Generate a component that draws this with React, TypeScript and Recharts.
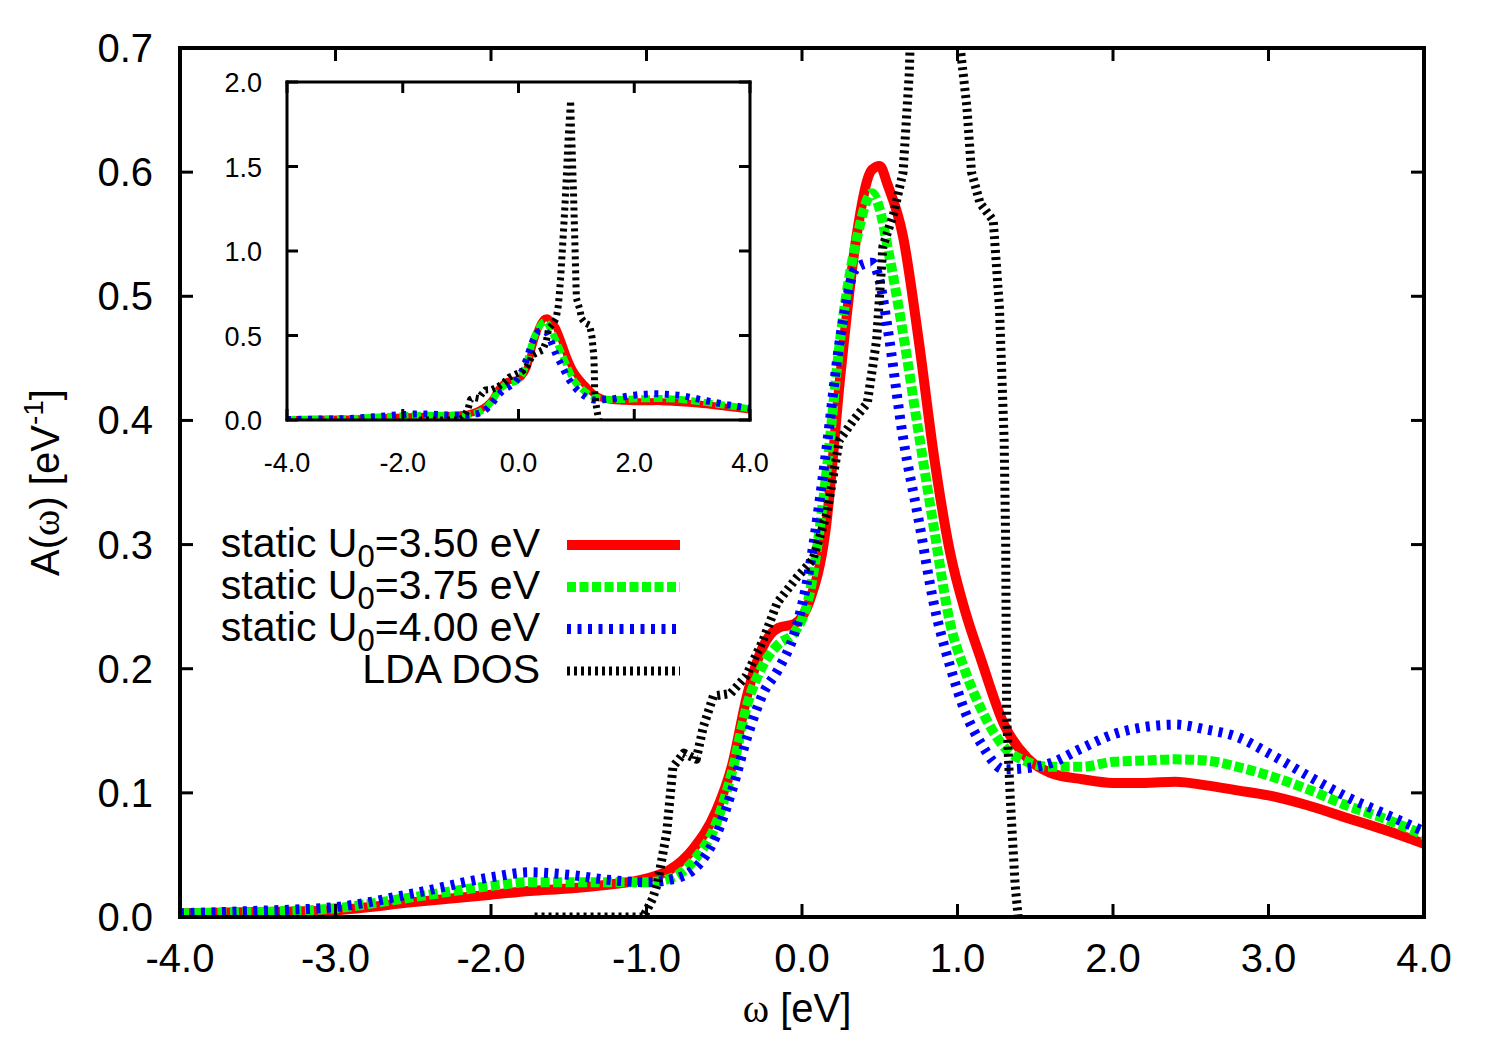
import { Label, Legend, Line, LineChart, XAxis, YAxis } from "recharts";

const FONT = '"Liberation Sans", Arial, Helvetica, sans-serif';
const SYMBOL = '"Liberation Serif", "DejaVu Serif", serif';

// energy grid (eV) shared by the three static-U spectra
const omega = [
  -4, -3.5, -3, -2.5, -2, -1.75, -1.5, -1.25, -1, -0.85,
  -0.7, -0.55, -0.45, -0.35, -0.25, -0.15, -0.05, 0.05, 0.15, 0.25,
  0.35, 0.45, 0.5, 0.55, 0.65, 0.75, 0.85, 0.95, 1.05, 1.15,
  1.3, 1.45, 1.6, 1.8, 2.0, 2.2, 2.4, 2.6, 2.8, 3.0,
  3.25, 3.5, 3.75, 4.0,
];
const aU350 = [
  0.003, 0.004, 0.0055, 0.012, 0.018, 0.021, 0.023, 0.026, 0.031, 0.038,
  0.055, 0.086, 0.122, 0.18, 0.218, 0.233, 0.236, 0.255, 0.31, 0.44,
  0.548, 0.602, 0.605, 0.59, 0.548, 0.465, 0.37, 0.295, 0.246, 0.208,
  0.155, 0.128, 0.116, 0.111, 0.108, 0.108, 0.109, 0.106, 0.102, 0.098,
  0.09, 0.08, 0.07, 0.059,
];
const aU375 = [
  0.003, 0.004, 0.007, 0.016, 0.025, 0.028, 0.028, 0.028, 0.028, 0.031,
  0.045, 0.076, 0.117, 0.172, 0.203, 0.22, 0.229, 0.261, 0.35, 0.47,
  0.545, 0.583, 0.57, 0.54, 0.47, 0.39, 0.312, 0.238, 0.198, 0.168,
  0.137, 0.125, 0.121, 0.121, 0.125, 0.126, 0.127, 0.126, 0.121, 0.114,
  0.103, 0.09, 0.079, 0.066,
];
const aU400 = [
  0.003, 0.005, 0.008, 0.019, 0.032, 0.036, 0.034, 0.03, 0.028, 0.03,
  0.038, 0.066, 0.102, 0.146, 0.18, 0.2, 0.228, 0.282, 0.37, 0.47,
  0.523, 0.527, 0.512, 0.475, 0.386, 0.32, 0.251, 0.203, 0.165, 0.14,
  0.119, 0.12, 0.124, 0.136, 0.147, 0.153, 0.155, 0.151, 0.145, 0.132,
  0.114, 0.097, 0.083, 0.069,
];

// LDA density of states
const ldaOmega = [
  -1.72, -1.02, -0.96, -0.93, -0.87, -0.83, -0.76, -0.68, -0.635, -0.57,
  -0.46, -0.36, -0.25, -0.16, -0.03, 0.07, 0.16, 0.24, 0.33, 0.42,
  0.48, 0.52, 0.59, 0.65, 0.69, 0.73, 0.8, 0.86, 0.9, 0.95,
  1.0, 1.06, 1.09, 1.145, 1.23, 1.27, 1.3, 1.31, 1.316, 1.34,
  1.37, 1.39,
];
const ldaDos = [
  0, 0, 0.015, 0.027, 0.068, 0.121, 0.132, 0.127, 0.153, 0.178,
  0.18, 0.194, 0.223, 0.253, 0.274, 0.288, 0.325, 0.384, 0.4, 0.414,
  0.465, 0.54, 0.567, 0.6, 0.68, 0.85, 1.25, 1.68, 1.89, 1.35,
  0.72, 0.653, 0.6, 0.575, 0.561, 0.49, 0.384, 0.3, 0.161, 0.094,
  0.027, 0,
];

const mainXTicks = [-4, -3, -2, -1, 0, 1, 2, 3, 4];
const mainYTicks = [0, 0.1, 0.2, 0.3, 0.4, 0.5, 0.6, 0.7];
const insetXTicks = [-4, -2, 0, 2, 4];
const insetYTicks = [0, 0.5, 1, 1.5, 2];

const uValues = ["3.50", "3.75", "4.00"];

const spectra = omega.map((w, i) => ({ w, u350: aU350[i], u375: aU375[i], u400: aU400[i] }));
const lda = ldaOmega.map((w, i) => ({ w, dos: ldaDos[i] }));

const series = [
  { key: "u350", data: spectra, color: "#ff0000", dash: undefined, u: uValues[0], curve: "monotone" },
  { key: "u375", data: spectra, color: "#00ff00", dash: "9 3.5", u: uValues[1], curve: "monotone" },
  { key: "u400", data: spectra, color: "#0000ff", dash: "4 6.5", u: uValues[2], curve: "monotone" },
  { key: "dos", data: lda, color: "#000000", dash: "3 4", u: null, curve: "linear" },
] as const;

type Side = "bottom" | "top" | "left" | "right";
type TickFont = { size: number; gap: number; base: number };

// gnuplot-style ticks: mark drawn inward, label outside
const inTick = (side: Side, len: number, sw: number, font?: TickFont) => (p: any) => {
  const { x, y, payload } = p;
  const dx = side === "left" ? len : side === "right" ? -len : 0;
  const dy = side === "bottom" ? -len : side === "top" ? len : 0;
  let label = null;
  if (font) {
    const txt = Number(payload.value).toFixed(1);
    label =
      side === "left" ? (
        <text x={x - font.gap} y={y + font.base} textAnchor="end" fontSize={font.size} fontFamily={FONT} fill="#000">
          {txt}
        </text>
      ) : (
        <text x={x} y={y + font.base} textAnchor="middle" fontSize={font.size} fontFamily={FONT} fill="#000">
          {txt}
        </text>
      );
  }
  return (
    <g>
      <line x1={x} y1={y} x2={x + dx} y2={y + dy} stroke="#000" strokeWidth={sw} />
      {label}
    </g>
  );
};

function LegendBox() {
  const rows = [33, 75, 117, 159];
  return (
    <svg width={500} height={180} style={{ overflow: "visible" }}>
      {series.map((s, i) => (
        <g key={s.key}>
          <text x={340} y={rows[i] + 12} textAnchor="end" fontSize={41} fontFamily={FONT} fill="#000">
            {s.u ? (
              <>
                static U
                <tspan fontSize={31} dy={10}>0</tspan>
                <tspan dy={-10}>={s.u} eV</tspan>
              </>
            ) : (
              "LDA DOS"
            )}
          </text>
          <line
            x1={367}
            x2={480}
            y1={rows[i]}
            y2={rows[i]}
            stroke={s.color}
            strokeWidth={s.key === "dos" ? 9 : 10}
            strokeDasharray={s.dash}
          />
        </g>
      ))}
    </svg>
  );
}

const frameMain = { stroke: "#000", strokeWidth: 4, strokeLinecap: "square" as const };
const frameInset = { stroke: "#000", strokeWidth: 3, strokeLinecap: "square" as const };

export default function App() {
  return (
    <div style={{ position: "absolute", left: 0, top: 0, width: 1500, height: 1050, background: "#fff", fontFamily: FONT }}>
      <div style={{ position: "absolute", left: 0, top: 0 }}>
        <LineChart width={1500} height={1050} margin={{ top: 47, right: 75, bottom: 132, left: 179 }}>
          <XAxis
            dataKey="w"
            type="number"
            domain={[-4, 4]}
            ticks={mainXTicks}
            interval={0}
            allowDataOverflow
            height={1}
            tickSize={0}
            tickMargin={0}
            tickLine={false}
            axisLine={frameMain}
            tick={inTick("bottom", 13, 3, { size: 40, gap: 0, base: 55 })}
          >
            <Label
              content={(p: any) => {
                const vb = p.viewBox;
                return (
                  <text x={vb.x + vb.width / 2 - 5} y={vb.y + 105} textAnchor="middle" fontSize={40} fontFamily={FONT}>
                    <tspan fontFamily={SYMBOL}>ω</tspan> [eV]
                  </text>
                );
              }}
            />
          </XAxis>
          <XAxis
            xAxisId="top"
            orientation="top"
            dataKey="w"
            type="number"
            domain={[-4, 4]}
            ticks={mainXTicks}
            interval={0}
            allowDataOverflow
            height={1}
            tickSize={0}
            tickMargin={0}
            tickLine={false}
            axisLine={frameMain}
            tick={inTick("top", 13, 3)}
          />
          <YAxis
            type="number"
            domain={[0, 0.7]}
            ticks={mainYTicks}
            interval={0}
            allowDataOverflow
            width={1}
            tickSize={0}
            tickMargin={0}
            tickLine={false}
            axisLine={frameMain}
            tick={inTick("left", 13, 3, { size: 40, gap: 27, base: 14 })}
          >
            <Label
              content={(p: any) => {
                const vb = p.viewBox;
                const x = vb.x - 120;
                const y = vb.y + vb.height / 2;
                return (
                  <text x={x} y={y} transform={`rotate(-90 ${x} ${y})`} textAnchor="middle" fontSize={40} fontFamily={FONT}>
                    A(<tspan fontFamily={SYMBOL}>ω</tspan>) [eV
                    <tspan fontSize={28} dy={-16}>-1</tspan>
                    <tspan dy={16}>]</tspan>
                  </text>
                );
              }}
            />
          </YAxis>
          <YAxis
            yAxisId="right"
            orientation="right"
            type="number"
            domain={[0, 0.7]}
            ticks={mainYTicks}
            interval={0}
            allowDataOverflow
            width={1}
            tickSize={0}
            tickMargin={0}
            tickLine={false}
            axisLine={frameMain}
            tick={inTick("right", 13, 3)}
          />
          {series.map((s) => (
            <Line
              key={s.key}
              data={s.data as any}
              dataKey={s.key}
              type={s.curve}
              stroke={s.color}
              strokeWidth={s.key === "dos" ? 9 : 10}
              strokeDasharray={s.dash}
              strokeLinejoin="round"
              dot={false}
              activeDot={false}
              isAnimationActive={false}
            />
          ))}
          <Legend
            layout="horizontal"
            verticalAlign="middle"
            align="center"
            wrapperStyle={{ left: 200, top: 512, width: 500, height: 180 }}
            content={() => <LegendBox />}
          />
        </LineChart>
      </div>

      <div style={{ position: "absolute", left: 287, top: 82, width: 463, height: 338, background: "#fff" }} />

      <div style={{ position: "absolute", left: 200, top: 60 }}>
        <LineChart width={600} height={430} margin={{ top: 21, right: 49, bottom: 69, left: 86 }}>
          <XAxis
            dataKey="w"
            type="number"
            domain={[-4, 4]}
            ticks={insetXTicks}
            interval={0}
            allowDataOverflow
            height={1}
            tickSize={0}
            tickMargin={0}
            tickLine={false}
            axisLine={frameInset}
            tick={inTick("bottom", 11, 3, { size: 27, gap: 0, base: 52 })}
          />
          <XAxis
            xAxisId="top"
            orientation="top"
            dataKey="w"
            type="number"
            domain={[-4, 4]}
            ticks={insetXTicks}
            interval={0}
            allowDataOverflow
            height={1}
            tickSize={0}
            tickMargin={0}
            tickLine={false}
            axisLine={frameInset}
            tick={inTick("top", 11, 3)}
          />
          <YAxis
            type="number"
            domain={[0, 2]}
            ticks={insetYTicks}
            interval={0}
            allowDataOverflow
            width={1}
            tickSize={0}
            tickMargin={0}
            tickLine={false}
            axisLine={frameInset}
            tick={inTick("left", 11, 3, { size: 27, gap: 25, base: 10 })}
          />
          <YAxis
            yAxisId="right"
            orientation="right"
            type="number"
            domain={[0, 2]}
            ticks={insetYTicks}
            interval={0}
            allowDataOverflow
            width={1}
            tickSize={0}
            tickMargin={0}
            tickLine={false}
            axisLine={frameInset}
            tick={inTick("right", 11, 3)}
          />
          {series.map((s) => (
            <Line
              key={s.key}
              data={s.data as any}
              dataKey={s.key}
              type={s.curve}
              stroke={s.color}
              strokeWidth={7}
              strokeDasharray={s.dash}
              strokeLinejoin="round"
              dot={false}
              activeDot={false}
              isAnimationActive={false}
            />
          ))}
        </LineChart>
      </div>
    </div>
  );
}
